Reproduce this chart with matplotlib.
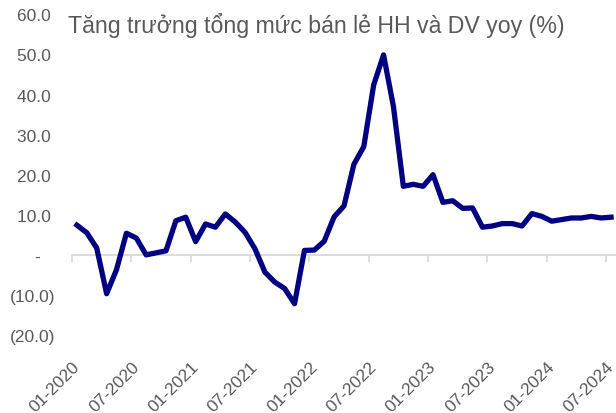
import matplotlib
matplotlib.use("Agg")
import matplotlib.pyplot as plt
import numpy as np

plt.rcParams['font.family'] = ['Liberation Sans', 'DejaVu Sans']

# Monthly retail sales growth yoy (%), 01-2020 .. 07-2024
months = [f"{m:02d}-{y}" for y in range(2020, 2025) for m in range(1, 13)][:55]
growth = [7.4, 5.5, 1.7, -9.7, -3.7, 5.4, 4.2, 0.0, 0.5, 1.0, 8.5, 9.4,
          3.3, 7.7, 6.9, 10.2, 8.2, 5.6, 1.5, -4.3, -6.8, -8.4, -12.2, 1.1,
          1.2, 3.4, 9.5, 12.2, 22.6, 27.0, 42.4, 49.9, 37.0, 17.1, 17.6, 17.1,
          20.0, 13.1, 13.5, 11.6, 11.7, 6.9, 7.2, 7.8, 7.8, 7.2, 10.3, 9.6,
          8.4, 8.8, 9.2, 9.2, 9.6, 9.2, 9.4]
tick_labels = months[::6]
y_ticks = [-20, -10, 0, 10, 20, 30, 40, 50, 60]

title = "Tăng trưởng tổng mức bán lẻ HH và DV yoy (%)"
text_color = '#595959'
line_color = '#000080'


def fmt(v):
    if v == 0:
        return "-   "
    if v < 0:
        return f"({abs(v):.1f})"
    return f"{v:.1f} "


fig = plt.figure(figsize=(6.16, 4.14), dpi=100)
ax = fig.add_axes([72 / 616, 1 - 336 / 414, 1 - 72 / 616, (336 - 15.4) / 414])

x = np.arange(len(growth))
ax.plot(x, growth, color=line_color, linewidth=3.8, solid_joinstyle='round', zorder=3)

ax.set_xlim(-0.5, len(growth) - 0.5)
ax.set_ylim(-20, 60)

for side in ['top', 'right', 'left']:
    ax.spines[side].set_visible(False)
ax.spines['bottom'].set_position(('data', 0))
ax.spines['bottom'].set_color('#D9D9D9')
ax.spines['bottom'].set_linewidth(1.3)

tick_pos = np.arange(len(growth))[::6] - 0.5
ax.set_xticks(tick_pos)
ax.tick_params(axis='x', length=5, width=1.3, color='#D9D9D9', labelbottom=False)

ax.set_yticks(y_ticks)
ax.set_yticklabels([fmt(v) for v in y_ticks])
ax.tick_params(axis='y', length=0, pad=12, labelsize=12.5, labelcolor=text_color)

sec = ax.secondary_xaxis(0)
sec.set_xticks(tick_pos)
sec.set_xticklabels(tick_labels, rotation=45, ha='right', va='top',
                    rotation_mode='anchor')
sec.tick_params(length=0, pad=17, labelsize=12.5, labelcolor=text_color)
sec.spines['bottom'].set_visible(False)

fig.text(68 / 616, 1 - 33 / 414, title, fontsize=16.7, color=text_color,
         va='baseline', ha='left')

fig.savefig('out.png', dpi=100)
